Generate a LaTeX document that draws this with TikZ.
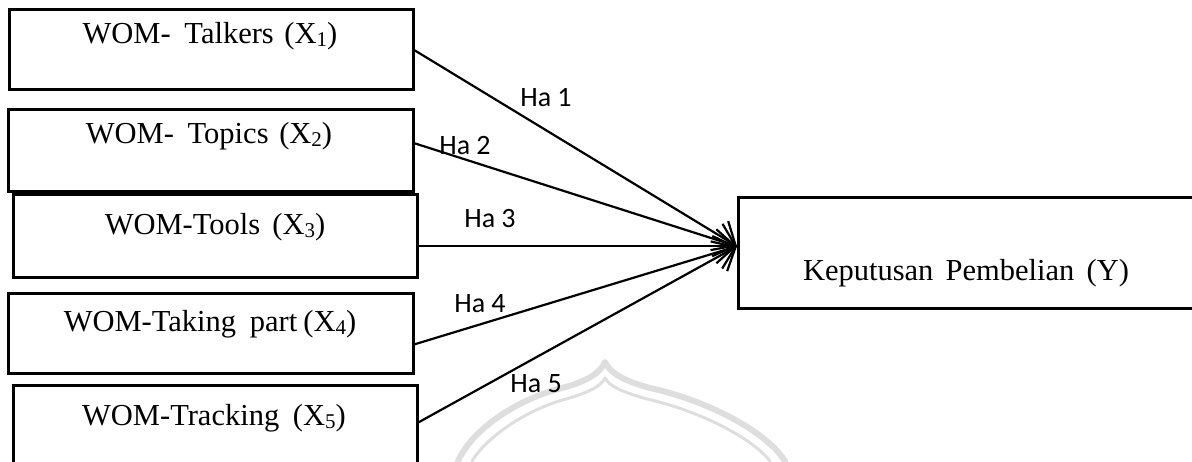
\documentclass[tikz,border=0pt]{standalone}
\usepackage{fontspec}
\setmainfont{Liberation Serif}
\newfontfamily\labelfont{Carlito}
\usetikzlibrary{arrows.meta}

% lowered index digit, as in X1 ... X5
\newcommand\lowidx[1]{\raisebox{-0.13em}{\fontsize{21}{21}\selectfont #1}}

\tikzset{
  varbox/.style={draw=black, line width=2.6pt, rectangle, inner sep=0pt, anchor=north west},
  boxtext/.style={anchor=base, inner sep=0pt, font=\fontsize{30.5}{34}\selectfont},
  hyp/.style={draw=black, line width=2.2pt, -{Straight Barb[length=19pt, width=34pt, line width=2.2pt]}},
  hyplabel/.style={anchor=base, inner sep=0pt, font=\labelfont\fontsize{28}{31}\selectfont},
  crest/.style={draw=black!13, line cap=round, line join=round}
}

\begin{document}
\begin{tikzpicture}[x=1pt, y=-1pt]
  \useasboundingbox (0,0) rectangle (1192,461);
  \clip (0,0) rectangle (1192,461);

  % faint crest behind the diagram
  \draw[crest, line width=6pt]
    (458,461) .. controls (472,430) and (515,400) .. (562,388)
    .. controls (588,381) and (600,373) .. (605,362)
    .. controls (610,373) and (624,381) .. (650,388)
    .. controls (705,400) and (765,430) .. (785,461);
  \draw[crest, line width=3pt]
    (472,461) .. controls (486,438) and (525,410) .. (566,399)
    .. controls (590,392) and (601,386) .. (605,378)
    .. controls (609,386) and (622,392) .. (647,399)
    .. controls (700,411) and (752,438) .. (770,461);

  % independent variables
  \node[varbox, minimum width=404pt, minimum height=80pt] (b1) at (8,8) {};
  \node[varbox, minimum width=405pt, minimum height=82pt] (b2) at (7,108) {};
  \node[varbox, minimum width=404pt, minimum height=83pt] (b3) at (12,193) {};
  \node[varbox, minimum width=405pt, minimum height=80pt] (b4) at (7,292) {};
  \node[varbox, minimum width=404pt, minimum height=90pt] (b5) at (12,384) {};

  \node[boxtext] (t1) at (210,43) {WOM-\hspace{0.45em}Talkers\hspace{0.35em}(X\lowidx{1})};
  \node[boxtext] (t2) at (209,143) {WOM-\hspace{0.45em}Topics\hspace{0.35em}(X\lowidx{2})};
  \node[boxtext] (t3) at (215,234) {WOM-Tools\hspace{0.4em}(X\lowidx{3})};
  \node[boxtext] (t4) at (210,331) {WOM-Taking\hspace{0.45em}part\hspace{0.2em}(X\lowidx{4})};
  \node[boxtext] (t5) at (214,425) {WOM-Tracking\hspace{0.45em}(X\lowidx{5})};

  % dependent variable
  \node[varbox, minimum width=480pt, minimum height=111pt] (y) at (737,196) {};
  \node[boxtext] (ty) at (966,280) {Keputusan\hspace{0.4em}Pembelian\hspace{0.4em}(Y)};

  % hypothesised paths
  \coordinate (tip) at ([yshift=6.5pt]y.west);
  \draw[hyp] ([yshift=-1pt]b1.east) -- (tip);
  \draw[hyp] ([yshift=7pt]b2.east) -- (tip);
  \draw[hyp] ([yshift=-10.5pt]b3.east) -- (tip);
  \draw[hyp] ([yshift=-11pt]b4.east) -- (tip);
  \draw[hyp] ([yshift=8pt]b5.east) -- (tip);

  \node[hyplabel] (h1) at (546,106) {Ha 1};
  \node[hyplabel] (h2) at (465,154) {Ha 2};
  \node[hyplabel] (h3) at (490,227) {Ha 3};
  \node[hyplabel] (h4) at (480,312) {Ha 4};
  \node[hyplabel] (h5) at (536,392) {Ha 5};
\end{tikzpicture}
\end{document}
